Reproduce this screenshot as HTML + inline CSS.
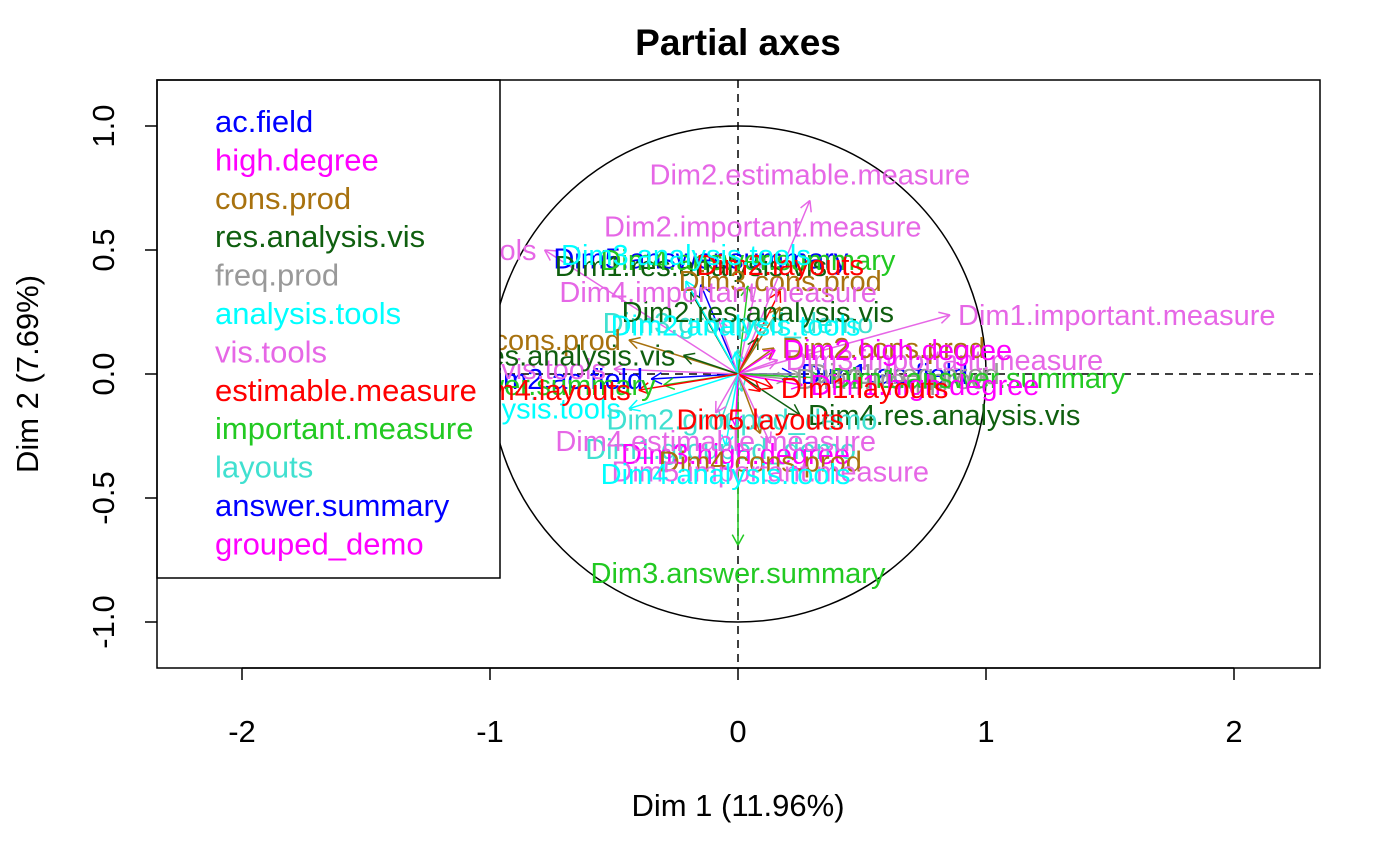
<!DOCTYPE html>
<html><head><meta charset="utf-8"><style>
body{margin:0;background:#fff}
svg{display:block;font-family:"Liberation Sans",Arial,sans-serif}
</style></head><body>
<svg id="chart" width="1400" height="865" viewBox="0 0 1400 865">
<g id="plot"></g>
</svg>
<script>
const groupNames=["ac.field","high.degree","cons.prod","res.analysis.vis","freq.prod","analysis.tools","vis.tools","estimable.measure","important.measure","layouts","answer.summary","grouped_demo"];
const groupColors=["#0000ff","#ff00ff","#a8720f","#0f5f0f","#999999","#00ffff","#e667e6","#ff0000","#22c922","#40e0d0","#0000ff","#ff00ff"];
const varNames=["Dim1.ac.field","Dim2.ac.field","Dim1.freq.prod","Dim2.freq.prod","Dim3.grouped_demo","Dim1.vis.tools","Dim2.vis.tools","Dim5.answer.summary","Dim2.estimable.measure","Dim2.important.measure","Dim1.important.measure","Dim3.answer.summary","Dim4.res.analysis.vis","Dim1.answer.summary","Dim1.high.degree","Dim1.layouts","Dim3.important.measure","Dim2.cons.prod","Dim2.high.degree","Dim2.res.analysis.vis","Dim1.res.analysis.vis","Dim4.answer.summary","Dim2.layouts","Dim3.cons.prod","Dim4.important.measure","Dim3.analysis.tools","Dim2.analysis.tools","Dim1.cons.prod","Dim3.res.analysis.vis","Dim1.analysis.tools","Dim2.answer.summary","Dim4.layouts","Dim2.grouped_demo","Dim5.layouts","Dim1.grouped_demo","Dim3.high.degree","Dim4.estimable.measure","Dim4.cons.prod","Dim5.important.measure","Dim4.analysis.tools"];
const varX=[0.22,-0.35,0.25,0.2,0.0,-0.5,-0.78,-0.15,0.29,0.10,0.855,0.0,0.25,0.34,0.26,0.14,0.16,0.145,0.15,0.08,-0.19,0.04,0.17,0.17,-0.08,-0.21,-0.01,-0.44,-0.22,-0.44,-0.3,-0.4,0.016,0.09,-0.07,-0.01,-0.09,0.09,0.13,-0.05];
const varY=[0.0,-0.02,0.0,-0.02,0.1,0.02,0.5,0.36,0.70,0.49,0.238,-0.69,-0.165,-0.016,-0.045,-0.056,0.056,0.105,0.097,0.145,0.33,0.355,0.335,0.27,0.225,0.375,0.09,0.137,0.075,-0.14,-0.045,-0.065,-0.07,-0.07,-0.19,-0.21,-0.157,-0.24,-0.28,-0.29];
const varColor=["#0000ff","#0000ff","#999999","#999999","#40e0d0","#e667e6","#e667e6","#0000ff","#e667e6","#e667e6","#e667e6","#22c922","#0f5f0f","#22c922","#ff00ff","#ff0000","#e667e6","#a8720f","#ff00ff","#0f5f0f","#0f5f0f","#22c922","#ff0000","#a8720f","#e667e6","#00ffff","#00ffff","#a8720f","#0f5f0f","#00ffff","#22c922","#ff0000","#40e0d0","#ff0000","#40e0d0","#ff00ff","#e667e6","#a8720f","#e667e6","#00ffff"];
const varPos=[4,2,4,4,3,2,2,3,3,3,4,1,4,4,4,4,4,4,4,3,3,3,3,3,3,3,3,2,2,2,2,2,1,1,1,1,1,1,1,1];
const xTicks=[-2,-1,0,1,2];
const yTicks=[-1.0,-0.5,0.0,0.5,1.0];

const NS="http://www.w3.org/2000/svg";
const g=document.getElementById('plot');
const X0=738,Y0=374,S=248;
const sx=v=>X0+v*S, sy=v=>Y0-v*S;
const L={l:157,r:1320,t:80,b:668};
function mk(tag,attrs,parent,text){const e=document.createElementNS(NS,tag);for(const k in attrs)e.setAttribute(k,attrs[k]);if(text!==undefined)e.textContent=text;(parent||g).appendChild(e);return e;}

let t=mk('text',{x:738,y:55,'text-anchor':'middle','font-size':37,'font-weight':'bold'},g,'Partial axes');



let h=mk('line',{x1:L.l,x2:L.r,y1:sy(0),y2:sy(0),stroke:'#000','stroke-width':1.5,'stroke-dasharray':'8,6'});


let v=mk('line',{x1:sx(0),x2:sx(0),y1:L.t,y2:L.b,stroke:'#000','stroke-width':1.5,'stroke-dasharray':'8,6'});



let c=mk('circle',{cx:sx(0),cy:sy(0),r:S,fill:'none',stroke:'#000','stroke-width':1.5});



varNames.forEach((n,i)=>{
  const x=sx(varX[i]),y=sy(varY[i]),col=varColor[i];
  const ag=mk('g',{});
  
  
  mk('line',{x1:X0,y1:Y0,x2:x,y2:y,stroke:col,'stroke-width':1.5},ag);
  const ang=Math.atan2(y-Y0,x-X0),hl=12;
  if(Math.hypot(x-X0,y-Y0)>5){
    [0.5,-0.5].forEach(d=>mk('line',{x1:x,y1:y,x2:x-hl*Math.cos(ang+d),y2:y-hl*Math.sin(ang+d),stroke:col,'stroke-width':1.5},ag));
  }
});
varNames.forEach((n,i)=>{
  const x=sx(varX[i]),y=sy(varY[i]),p=varPos[i];
  let tx=x,ty=y+10,anc='middle';
  if(p===1){ty=y+38;}else if(p===3){ty=y-16;}else if(p===2){tx=x-8;anc='end';}else{tx=x+8;anc='start';}
  const lt=mk('text',{x:tx,y:ty,'text-anchor':anc,'font-size':29,fill:varColor[i]},g,n);
  
  
});

const lg=mk('g',{});


mk('rect',{x:L.l,y:L.t,width:343,height:498,fill:'#fff',stroke:'#000','stroke-width':1.5},lg);
groupNames.forEach((n,i)=>{
  const e=mk('text',{x:215,y:132+i*38.4,'font-size':31,fill:groupColors[i]},lg,n);
  
  
});

let b=mk('rect',{x:L.l,y:L.t,width:L.r-L.l,height:L.b-L.t,fill:'none',stroke:'#000','stroke-width':1.5});



xTicks.forEach(tv=>{
  mk('line',{x1:sx(tv),x2:sx(tv),y1:L.b,y2:L.b+12,stroke:'#000','stroke-width':1.5});
  const e=mk('text',{x:sx(tv),y:742,'text-anchor':'middle','font-size':31},g,String(tv));
  
  
});
mk('line',{x1:sx(-2),x2:sx(2),y1:L.b,y2:L.b,stroke:'#000','stroke-width':1.5});
yTicks.forEach(tv=>{
  mk('line',{x1:L.l-12,x2:L.l,y1:sy(tv),y2:sy(tv),stroke:'#000','stroke-width':1.5});
  const e=mk('text',{x:114,y:sy(tv),'text-anchor':'middle','font-size':31,transform:`rotate(-90 114 ${sy(tv)})`},g,tv.toFixed(1));
  
  
});
let xt=mk('text',{x:738,y:816,'text-anchor':'middle','font-size':31},g,'Dim 1 (11.96%)');


let yt=mk('text',{x:38,y:374,'text-anchor':'middle','font-size':31,transform:'rotate(-90 38 374)'},g,'Dim 2 (7.69%)');


</script>
</body></html>
